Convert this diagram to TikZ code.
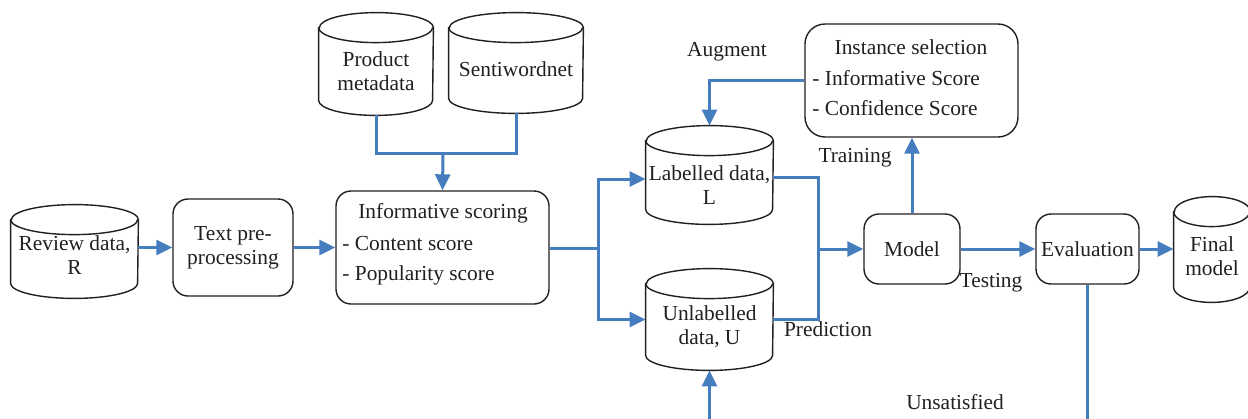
\documentclass[tikz,border=0pt]{standalone}
\usepackage{fontspec}
\setmainfont{Liberation Serif}
\usetikzlibrary{arrows.meta}
\definecolor{lblue}{RGB}{70,125,190}
\definecolor{ink}{RGB}{35,31,32}
\tikzset{
 box/.style={draw=ink, line width=0.7pt, rounded corners=7.5pt, inner sep=0pt, fill=white},
 cylbox/.style={inner sep=0pt, draw=none},
 cylline/.style={draw=ink, line width=0.7pt},
 txt/.style={text=ink, font=\fontsize{10.7}{11.9}\selectfont, inner sep=0pt, align=center},
 conn/.style={draw=lblue, line width=1.5pt},
 arr/.style={conn, -{Triangle[length=8pt,width=7.5pt]}},
}
\newcommand\mycyl[7]{%
 \node[cylbox, minimum width={#4*0.5pt}, minimum height={#5*0.5pt}] (#1) at (#2,#3) {};
 \path[cylline, fill=white] ([yshift=-7.5pt]#1.north west) -- ([yshift=7.5pt]#1.south west)
   arc[start angle=180,end angle=360,x radius={#4*0.25pt},y radius=7.5pt]
   -- ([yshift=-7.5pt]#1.north east)
   arc[start angle=0,end angle=180,x radius={#4*0.25pt},y radius=7.5pt] -- cycle;
 \draw[cylline] ([yshift=-7.5pt]#1.north west)
   arc[start angle=180,end angle=360,x radius={#4*0.25pt},y radius=7.5pt];
 \node[txt] (#1-t) at ([yshift={-#6*0.5pt}]#1.center) {#7};
}
\begin{document}
\begin{tikzpicture}[x=0.5pt,y=-0.5pt]
\useasboundingbox (0,0) rectangle (1248,418);
\clip (0,0) rectangle (1248,418);

% cylinders
\mycyl{rev}{74.5}{251.5}{127}{93}{3.5}{Review data,\\R}
\mycyl{pm}{376}{64}{114}{102}{7.5}{Product\\metadata}
\mycyl{sw}{516}{63}{134}{100}{6}{Sentiwordnet}
\mycyl{lab}{709.5}{175}{127}{98}{10}{Labelled data,\\L}
\mycyl{unl}{709.5}{319.5}{127}{101}{7}{Unlabelled\\data, U}
\mycyl{fin}{1212}{249.5}{76}{105}{6.5}{Final\\model}

% boxes
\node[box, minimum width=60pt, minimum height=48.5pt, txt] (tp) at (233,247.5) {Text pre-\\processing};
\node[box, minimum width=106.5pt, minimum height=56.5pt] (inf) at (442.5,247.5) {};
\node[txt] (inf-t1) at (443,213) {Informative scoring};
\node[txt, anchor=west] (inf-t2) at (342,244) {- Content score};
\node[txt, anchor=west] (inf-t3) at (342,275) {- Popularity score};

\node[box, rounded corners=10pt, minimum width=106.5pt, minimum height=56.5pt] (inst) at (911.5,80.5) {};
\node[txt] (inst-t1) at (911,47) {Instance selection};
\node[txt, anchor=west] (inst-t2) at (812,78) {- Informative Score};
\node[txt, anchor=west] (inst-t3) at (812,108) {- Confidence Score};

\node[box, minimum width=48pt, minimum height=35pt, txt] (mod) at (912,249) {Model};
\node[box, minimum width=51.5pt, minimum height=35pt, txt] (ev) at (1087.5,249) {Evaluation};

% labels
\node[txt] (l-aug) at (727,52) {Augment};
\node[txt] (l-tr) at (855,158) {Training};
\node[txt] (l-te) at (991,283) {Testing};
\node[txt] (l-pr) at (828,329) {Prediction};
\node[txt] (l-un) at (955,402) {Unsatisfied};

% junctions
\coordinate (m1) at (443,153);
\coordinate (s) at (598,248);
\coordinate (j) at (818,249);
\coordinate (bt) at (900,450);

% connectors
\draw[arr] (rev.east |- tp.west) -- (tp.west);
\draw[arr] (tp.east) -- (tp.east -| inf.west);
\draw[conn] (pm.south) |- (m1) -| (sw.south);
\draw[arr] (m1) -- (inf.north);
\draw[conn] (inf.east |- s) -- (s);
\draw[arr] (s) |- ([yshift=-2pt]lab.west);
\draw[arr] (s) |- (unl.west);
\draw[conn] ([yshift=-1pt]lab.east) -| (j);
\draw[conn] (unl.east) -| (j);
\draw[arr] (j) -- (j -| mod.west);
\draw[arr] (mod.north) -- (mod.north |- inst.south);
\draw[arr] (mod.east) -- (ev.west);
\draw[arr] (ev.east) -- (ev.east -| fin.west);
\draw[arr] (inst.west) -| (lab.north);
\draw[arr] (ev.south) |- (bt) -| (unl.south);
\end{tikzpicture}
\end{document}
